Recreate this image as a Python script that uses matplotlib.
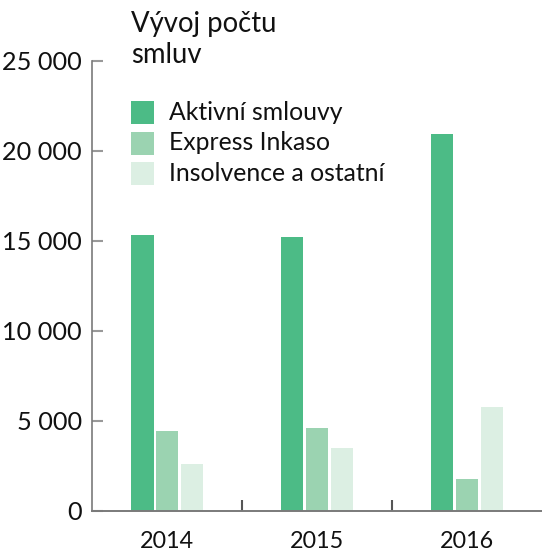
import matplotlib
matplotlib.use("Agg")
import matplotlib.pyplot as plt
from matplotlib.patches import Rectangle
import numpy as np

years = ["2014", "2015", "2016"]
series_names = ["Aktivní smlouvy", "Express Inkaso", "Insolvence a ostatní"]
aktivni = [15350, 15200, 20950]
express = [4450, 4600, 1780]
insolvence = [2600, 3500, 5780]
series = [aktivni, express, insolvence]
colors = ["#4CBB86", "#9BD3B1", "#DCEFE3"]
yticks = [0, 5000, 10000, 15000, 20000, 25000]
ytick_labels = ["0", "5 000", "10 000", "15 000", "20 000", "25 000"]
title_lines = ["Vývoj počtu", "smluv"]

FONT = ["Lato", "DejaVu Sans"]
plt.rcParams["font.family"] = FONT

W, H = 542, 552
fig = plt.figure(figsize=(W / 100, H / 100), dpi=100)
ax = fig.add_axes([92.3 / W, (H - 511) / H, (W - 92.3) / W, 450 / H])

x = np.arange(len(years))
bw = 0.149
step = 0.166
for i, (vals, c) in enumerate(zip(series, colors)):
    ax.bar(x + (i - 1) * step, vals, width=bw, color=c, linewidth=0, zorder=2)

ax.set_xlim(-0.5, 2.5)
ax.set_ylim(0, 25000)

for s in ["top", "right"]:
    ax.spines[s].set_visible(False)
ax.spines["left"].set_color("#7a7a7a")
ax.spines["left"].set_linewidth(1.2)
ax.spines["bottom"].set_color("#7a7a7a")
ax.spines["bottom"].set_linewidth(1.4)

ax.set_yticks(yticks)
ax.set_yticklabels(ytick_labels)
ax.tick_params(axis="y", direction="in", length=8, width=1.5, color="#999999",
               pad=7.5, labelsize=18.2, labelcolor="#111111")
ax.set_xticks(x)
ax.set_xticklabels(years)
ax.set_xticks([0.5, 1.5], minor=True)
ax.tick_params(axis="x", which="major", length=0, pad=14.5, labelsize=16.8,
               labelcolor="#111111")
ax.tick_params(axis="x", which="minor", direction="in", length=8, width=1.5,
               color="#555555")

# title
for j, line in enumerate(title_lines):
    fig.text(131.4 / W, 1 - (31.7 + j * 31.6) / H, line, fontsize=19.8,
             color="#111111", ha="left", va="baseline")

# legend (manual)
sq_w, sq_h = 22.5, 23
for i, (name, c) in enumerate(zip(series_names, colors)):
    top = 101 + i * 30.5
    fig.patches.append(Rectangle((131.4 / W, 1 - (top + sq_h) / H), sq_w / W, sq_h / H,
                                 transform=fig.transFigure, facecolor=c,
                                 edgecolor="none"))
    fig.text(169.4 / W, 1 - (top + 19) / H, name, fontsize=17.8, color="#111111",
             ha="left", va="baseline")

fig.savefig("out.png", dpi=100)
